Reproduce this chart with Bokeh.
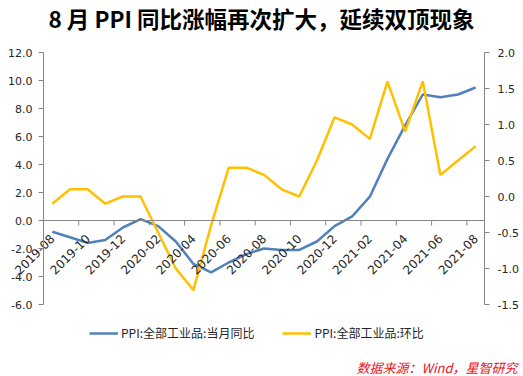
import math
from bokeh.plotting import figure
from bokeh.models import (Range1d, LinearAxis, FixedTicker, NumeralTickFormatter,
                          Legend, LegendItem, Label, ColumnDataSource)
from bokeh.embed import file_html
from bokeh.resources import INLINE

months = ["2019-08", "2019-09", "2019-10", "2019-11", "2019-12",
          "2020-01", "2020-02", "2020-03", "2020-04", "2020-05", "2020-06",
          "2020-07", "2020-08", "2020-09", "2020-10", "2020-11", "2020-12",
          "2021-01", "2021-02", "2021-03", "2021-04", "2021-05", "2021-06",
          "2021-07", "2021-08"]
ppi_yoy = [-0.8, -1.2, -1.6, -1.4, -0.5, 0.1, -0.4, -1.5, -3.1, -3.7, -3.0,
           -2.4, -2.0, -2.1, -2.1, -1.5, -0.4, 0.3, 1.7, 4.4, 6.8, 9.0, 8.8,
           9.0, 9.5]
ppi_mom = [-0.1, 0.1, 0.1, -0.1, 0.0, 0.0, -0.5, -1.0, -1.3, -0.4, 0.4,
           0.4, 0.3, 0.1, 0.0, 0.5, 1.1, 1.0, 0.8, 1.6, 0.9, 1.6, 0.3,
           0.5, 0.7]
left_ticks = [-6, -4, -2, 0, 2, 4, 6, 8, 10, 12]
right_ticks = [-1.5, -1.0, -0.5, 0.0, 0.5, 1.0, 1.5, 2.0]
title_text = "8 月 PPI 同比涨幅再次扩大，延续双顶现象"
name_yoy = "PPI:全部工业品:当月同比"
name_mom = "PPI:全部工业品:环比"
source_text = "数据来源：Wind，星智研究"

BLUE = "#4F81BD"
YELLOW = "#FFC000"
AXIS = "#868686"
TXT = "#262626"
NUMFONT = "DejaVu Sans"
CJK = "Noto Sans CJK SC"

# page geometry (pixels): plot box inside the 523 x 376 canvas
W, H = 523, 376
BOX_L, BOX_R, BOX_T, BOX_B = 43, 484, 52, 304

n = len(months)
x_lo, x_hi = -0.5, n - 0.5
ppx = (BOX_R - BOX_L) / (x_hi - x_lo)
yl_lo, yl_hi = min(left_ticks), max(left_ticks)
ppl = (BOX_B - BOX_T) / (yl_hi - yl_lo)
yr_lo, yr_hi = min(right_ticks), max(right_ticks)
ppr = (BOX_B - BOX_T) / (yr_hi - yr_lo)

idx = list(range(n))
src = ColumnDataSource(dict(x=idx, yoy=ppi_yoy, mom=ppi_mom))

p = figure(width=W, height=H, output_backend="svg", toolbar_location=None,
           x_range=Range1d(x_lo - BOX_L / ppx, x_hi + (W - BOX_R) / ppx),
           y_range=Range1d(yl_lo - (H - BOX_B) / ppl, yl_hi + BOX_T / ppl),
           x_axis_type=None, y_axis_type=None, min_border=0)
p.extra_y_ranges = {"r": Range1d(yr_lo - (H - BOX_B) / ppr, yr_hi + BOX_T / ppr)}
p.outline_line_color = None
p.xgrid.visible = False
p.ygrid.visible = False
p.background_fill_color = "white"
p.border_fill_color = "white"


def style_axis(ax, ticks, fmt, standoff):
    ax.ticker = FixedTicker(ticks=ticks)
    ax.formatter = NumeralTickFormatter(format=fmt)
    ax.axis_line_color = AXIS
    ax.major_tick_line_color = AXIS
    ax.major_tick_out = 5
    ax.major_tick_in = 0
    ax.minor_tick_line_color = None
    ax.major_label_text_font = NUMFONT
    ax.major_label_text_font_size = "11px"
    ax.major_label_text_color = TXT
    ax.major_label_standoff = standoff


la = LinearAxis(fixed_location=x_lo, bounds=(yl_lo, yl_hi))
style_axis(la, left_ticks, "0.0", 6)
p.add_layout(la, "left")
ra = LinearAxis(y_range_name="r", fixed_location=x_hi, bounds=(yr_lo, yr_hi))
style_axis(ra, right_ticks, "0.0", 8)
p.add_layout(ra, "right")

# category axis along y = 0 (labels at category centres, ticks between)
lab_idx = idx[::2]
xa = LinearAxis(fixed_location=0, bounds=(x_lo, x_hi),
                ticker=FixedTicker(ticks=lab_idx),
                major_label_overrides={i: months[i] for i in lab_idx},
                major_label_orientation=math.pi / 4,
                axis_line_color=AXIS, major_tick_line_color=None,
                minor_tick_line_color=None, major_tick_out=0,
                major_label_standoff=16,
                major_label_text_font=NUMFONT,
                major_label_text_font_size="12px",
                major_label_text_color=TXT)
p.add_layout(xa, "below")
tick_x = [i + 0.5 for i in idx[1:-1:2]]
p.ray(x=tick_x, y=[0] * len(tick_x), length=5, length_units="screen",
      angle=-math.pi / 2, line_color=AXIS, line_width=1)

r1 = p.line("x", "yoy", source=src, line_color=BLUE, line_width=2.5)
r2 = p.line("x", "mom", source=src, line_color=YELLOW, line_width=2.5,
            y_range_name="r")

legend = Legend(items=[LegendItem(label=name_yoy, renderers=[r1]),
                       LegendItem(label=name_mom, renderers=[r2])],
                orientation="horizontal", location=(89, 35),
                glyph_width=29, glyph_height=16, label_height=16,
                label_standoff=3, spacing=28, padding=0, margin=0,
                label_text_font=CJK, label_text_font_size="12px",
                label_text_color=TXT,
                border_line_alpha=0, background_fill_alpha=0)
p.add_layout(legend, "center")

p.add_layout(Label(x=261, y=H - 1, x_units="screen", y_units="screen",
                   text=title_text, text_align="center", text_baseline="top",
                   text_font=CJK, text_font_size="22.5px", text_font_style="bold",
                   text_color="black"))
p.add_layout(Label(x=517, y=9, x_units="screen", y_units="screen",
                   text=source_text, text_align="right", text_baseline="middle",
                   text_font=CJK, text_font_size="13px", text_font_style="italic",
                   text_color="#E8141B"))

open("out.html", "w").write(file_html(p, INLINE))
